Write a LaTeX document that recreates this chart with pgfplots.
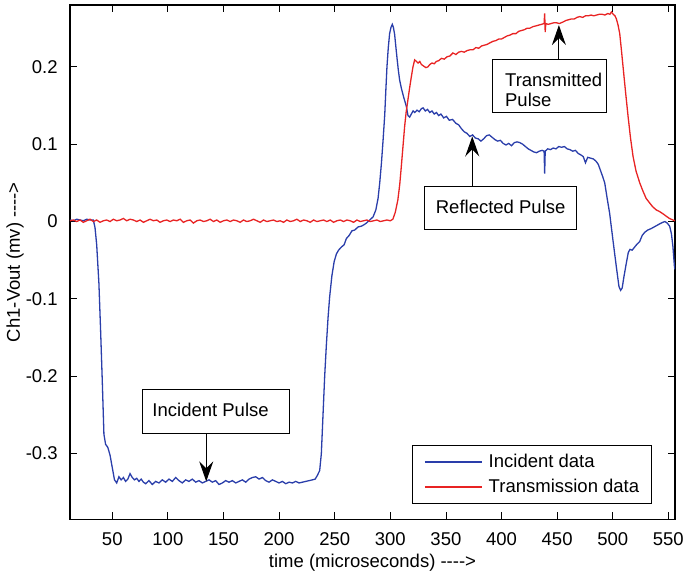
\documentclass[border=0pt]{standalone}
\usepackage{fontspec}
\setmainfont{Liberation Sans}
\usepackage{pgfplots}
\pgfplotsset{compat=1.18}
\usetikzlibrary{arrows.meta}

\definecolor{incblue}{RGB}{42,62,170}
\definecolor{trnred}{RGB}{232,35,35}
\newcommand{\arr}{-\kern0pt-\kern0pt-\kern0pt-\kern0pt>}

\begin{document}
\fontsize{18.5bp}{22bp}\selectfont
\begin{tikzpicture}
  \begin{axis}[
      name=ax,
      scale only axis,
      width=605bp, height=514.3bp,
      xmin=12, xmax=556,
      ymin=-0.385, ymax=0.28,
      xtick={50,100,...,550},
      ytick={-0.3,-0.2,-0.1,0,0.1,0.2},
      yticklabels={-0.3,-0.2,-0.1,0,0.1,0.2},
      tick align=inside,
      major tick length=7bp,
      tick style={black, line width=0.8bp},
      axis line style={line width=1.2bp},
      /pgf/number format/assume math mode=true,
      tick label style={font=\fontsize{18.5bp}{22bp}\selectfont},
      yticklabel style={xshift=-6bp},
      xticklabel style={yshift=-7bp},
      label style={font=\fontsize{18.5bp}{22bp}\selectfont},
      xlabel={time (microseconds) \arr},
      ylabel={Ch1-Vout (mv) \arr},
      xlabel style={at={(axis description cs:0.5,-0.0835)}, anchor=center},
      ylabel style={at={(axis description cs:-0.0909,0.5)}, anchor=center, rotate=0},
      legend style={at={(axis description cs:1,0)}, anchor=south east,
        xshift=-23.3bp, yshift=15.3bp, draw=black, line width=1bp, fill=white,
        inner xsep=12bp, inner ysep=7.3bp, row sep=7bp,
        nodes={inner sep=0pt, text height=14bp, text depth=4bp,
          font=\fontsize{18.5bp}{22bp}\selectfont},
        column sep=6bp},
      legend cell align=left,
    ]
    \addplot[incblue, line width=1.3bp,
      legend image code/.code={\draw[incblue, line width=1.5bp] (0bp,0bp) -- (57bp,0bp);}]
      coordinates {
      (12,0.002)(15,0.001)(18,0.003)(21,0.002)(24,0.001)(27,0.003)(30,0.002)(33,0.002)
      (34.5,-0.008)(36,-0.030)(38,-0.080)(39.5,-0.14)(41,-0.205)(42.5,-0.275)(44,-0.288)
      (46,-0.292)(48,-0.302)(50,-0.318)(52,-0.334)(54,-0.338)(56,-0.330)(58,-0.334)
      (60,-0.331)(62,-0.336)(64,-0.333)(66,-0.326)(68,-0.331)(70,-0.334)(72,-0.332)
      (74,-0.336)(76,-0.333)(78,-0.337)(80,-0.339)(83,-0.335)(86,-0.340)(89,-0.336)
      (92,-0.338)(95,-0.334)(98,-0.337)(101,-0.333)(104,-0.336)(107,-0.331)(110,-0.335)
      (113,-0.338)(116,-0.334)(119,-0.336)(122,-0.333)(125,-0.337)(128,-0.335)(131,-0.338)
      (134,-0.336)(137,-0.334)(140,-0.337)(143,-0.335)(146,-0.340)(149,-0.338)(152,-0.335)
      (155,-0.337)(158,-0.335)(161,-0.338)(164,-0.336)(167,-0.334)(170,-0.337)(173,-0.333)
      (176,-0.331)(179,-0.330)(182,-0.333)(185,-0.331)(188,-0.335)(191,-0.337)(194,-0.334)
      (197,-0.336)(200,-0.338)(203,-0.336)(206,-0.339)(209,-0.337)(212,-0.338)(215,-0.336)
      (218,-0.338)(221,-0.337)(224,-0.336)(227,-0.335)(230,-0.334)(232.5,-0.333)
      (234.5,-0.328)(236.5,-0.322)(238,-0.300)(239.5,-0.250)(241,-0.200)(242.5,-0.160)
      (244,-0.125)(245.5,-0.097)(247.5,-0.070)(249.5,-0.052)(251.5,-0.042)(253.5,-0.037)
      (256,-0.033)(258.5,-0.030)(260.5,-0.022)(263,-0.018)(265.5,-0.012)(268,-0.011)
      (271,-0.007)(274,-0.006)(276.5,-0.004)(278.5,-0.002)(281.5,0.002)(284.5,0.006)
      (287,0.015)(289,0.030)(290.5,0.050)(292,0.075)(293.5,0.105)(295,0.138)(296,0.170)
      (297,0.200)(298.2,0.225)(299.4,0.243)(300.6,0.251)(301.8,0.255)(302.8,0.251)
      (303.9,0.242)(305,0.226)(306,0.212)(307.2,0.196)(308.4,0.183)(310,0.172)(312,0.161)
      (314.4,0.149)(315.9,0.137)(317.4,0.135)(318.9,0.139)(320.5,0.143)(322,0.141)
      (324,0.144)(326,0.142)(328,0.146)(329.5,0.147)(331.5,0.143)(333.5,0.145)(335.5,0.141)
      (337.5,0.143)(339.5,0.139)(341.5,0.141)(343.5,0.137)(345.5,0.139)(348,0.134)
      (350.5,0.136)(353,0.131)(356,0.132)(359,0.127)(361.5,0.125)(364,0.120)(366.5,0.116)
      (369,0.114)(371.5,0.110)(374,0.112)(376.5,0.108)(379,0.107)(381.5,0.104)(384,0.107)
      (386.5,0.111)(389,0.112)(391.5,0.109)(394,0.106)(396.5,0.104)(399,0.105)(401.5,0.101)
      (404,0.099)(406.5,0.101)(409,0.098)(411.5,0.102)(414,0.103)(416.5,0.102)(419,0.100)
      (421.5,0.097)(424,0.094)(426.5,0.092)(429,0.090)(431.5,0.089)(434,0.091)(436.5,0.092)
      (438.3,0.091)(438.8,0.062)(439.3,0.091)(441.5,0.094)(444,0.093)(446.5,0.095)
      (449,0.094)(451.5,0.097)(454,0.096)(456.5,0.097)(459,0.094)(461.5,0.093)(464,0.091)
      (466.5,0.092)(469,0.088)(471.5,0.086)(473.5,0.084)(475.5,0.076)(477.5,0.083)
      (480,0.082)(482.5,0.081)(485,0.078)(487,0.074)(489,0.066)(491,0.058)(492.8,0.050)
      (495,0.030)(497.2,0.011)(500.2,-0.024)(503.2,-0.058)(505.6,-0.084)(507.1,-0.089)
      (508.5,-0.086)(510,-0.072)(512.2,-0.054)(514,-0.040)(515.5,-0.036)(517.5,-0.037)
      (519.7,-0.033)(522,-0.029)(524.2,-0.026)(526.5,-0.018)(528.7,-0.014)(531.5,-0.011)
      (534.7,-0.009)(538.5,-0.006)(542.2,-0.003)(545,-0.001)(547,0.000)(549,-0.002)
      (551.2,-0.006)(552.8,-0.016)(554.1,-0.032)(555.5,-0.058)(556,-0.062)
    };
    \addlegendentry{Incident data}
    \addplot[trnred, line width=1.3bp,
      legend image code/.code={\draw[trnred, line width=1.5bp] (0bp,0bp) -- (57bp,0bp);}]
      coordinates {
      (12,0.001)(15,0.002)(18,0.000)(21,0.002)(24,-0.001)(27,0.001)(30,0.003)(33,0.000)
      (36,0.002)(39,-0.001)(42,0.001)(45,0.002)(48,0.000)(51,0.003)(54,0.001)(57,0.002)
      (60,0.004)(63,0.001)(66,0.003)(69,0.002)(72,0.000)(75,0.002)(78,-0.001)(81,0.001)
      (84,0.003)(87,0.001)(90,0.002)(93,-0.001)(96,0.001)(99,0.002)(102,0.000)(105,0.002)
      (108,0.001)(111,0.003)(114,-0.001)(117,0.001)(120,0.002)(123,-0.002)(126,0.001)
      (129,0.002)(132,0.000)(135,0.001)(138,0.003)(141,0.000)(144,0.002)(147,-0.001)
      (150,0.001)(153,0.002)(156,0.000)(159,0.002)(162,0.001)(165,-0.001)(168,0.002)
      (171,0.000)(174,0.001)(177,0.003)(180,0.001)(183,-0.001)(186,0.002)(189,0.000)
      (192,0.001)(195,0.002)(198,0.000)(201,0.001)(204,-0.001)(207,0.002)(210,0.000)
      (213,0.001)(216,0.003)(219,0.000)(222,0.002)(225,0.001)(228,-0.001)(231,0.002)
      (234,0.000)(237,0.001)(240,0.002)(243,0.000)(246,0.002)(249,-0.001)(252,0.001)
      (255,0.002)(258,0.000)(261,0.002)(264,0.001)(267,-0.001)(270,0.002)(273,0.000)
      (276,0.001)(279,0.002)(282,0.000)(285,0.001)(288,0.002)(291,0.000)(294,0.001)
      (297,0.002)(300,0.001)(302.3,0.003)(304.5,0.012)(306.8,0.028)(308.5,0.048)
      (309.9,0.071)(311.4,0.097)(312.9,0.123)(314.3,0.142)(315.8,0.157)(317.3,0.172)
      (318.9,0.187)(320.4,0.200)(321.9,0.209)(323.5,0.207)(325,0.205)(326.5,0.207)
      (328,0.203)(330,0.201)(332,0.199)(333.8,0.200)(335.5,0.203)(337.5,0.205)(339.5,0.204)
      (341.4,0.207)(343.5,0.208)(346,0.211)(348.5,0.210)(351,0.213)(353.5,0.214)
      (356.3,0.218)(359,0.216)(361.5,0.219)(364,0.220)(366.5,0.219)(369,0.221)(371.5,0.222)
      (374.3,0.222)(377,0.225)(379.5,0.224)(382,0.227)(384.5,0.228)(387,0.229)(389.5,0.231)
      (392.3,0.233)(395,0.234)(397.5,0.236)(400,0.236)(402.5,0.238)(405,0.240)(407.5,0.241)
      (410.3,0.243)(413,0.243)(415.5,0.246)(418,0.247)(420.5,0.248)(423,0.250)(425.5,0.250)
      (428.3,0.252)(431,0.253)(433.5,0.254)(436,0.255)(438.3,0.256)(438.8,0.269)
      (439.3,0.245)(439.8,0.256)(442,0.255)(444.5,0.256)(447,0.257)(449.5,0.257)(452,0.256)
      (455.3,0.258)(458,0.260)(460.5,0.261)(463,0.262)(465.5,0.262)(468,0.264)(470.3,0.265)
      (473,0.264)(475.5,0.266)(478,0.266)(480.5,0.267)(483,0.266)(485.5,0.267)(488,0.268)
      (490.5,0.268)(493,0.267)(495.5,0.269)(497.5,0.268)(498.8,0.271)(500.5,0.268)
      (502,0.266)(503.3,0.262)(504.8,0.254)(506.3,0.243)(507.8,0.222)(509.3,0.200)
      (511.5,0.168)(513.8,0.136)(516,0.108)(518.3,0.084)(521,0.065)(524.3,0.050)(527,0.040)
      (530,0.030)(533.2,0.024)(536,0.019)(539.2,0.015)(542,0.013)(545.2,0.010)(548,0.007)
      (551,0.004)(554.1,0.002)(556,0.001)
    };
    \addlegendentry{Transmission data}

    % annotation boxes and arrows
    \draw[line width=1bp, fill=white] (axis cs:77,-0.2175) rectangle (axis cs:209.4,-0.274);
    \node[anchor=west, inner sep=0pt, xshift=10bp] at (axis cs:77,-0.2435) {Incident Pulse};
    \draw[line width=1bp, -{Stealth[length=20bp,width=14bp,inset=7bp]}]
      (axis cs:134.5,-0.274) -- (axis cs:134.5,-0.336);

    \draw[line width=1bp, fill=white] (axis cs:330.9,0.0452) rectangle (axis cs:467.3,-0.0107);
    \node[anchor=west, inner sep=0pt, xshift=11bp] at (axis cs:330.9,0.0194) {Reflected Pulse};
    \draw[line width=1bp, -{Stealth[length=20bp,width=14bp,inset=7bp]}]
      (axis cs:373.7,0.0452) -- (axis cs:373.7,0.11);

    \draw[line width=1bp, fill=white] (axis cs:392.3,0.209) rectangle (axis cs:494.3,0.141);
    \node[anchor=west, inner sep=0pt, xshift=12bp] at (axis cs:392.3,0.183) {Transmitted};
    \node[anchor=west, inner sep=0pt, xshift=12bp] at (axis cs:392.3,0.157) {Pulse};
    \draw[line width=1bp, -{Stealth[length=20bp,width=14bp,inset=7bp]}]
      (axis cs:451.6,0.209) -- (axis cs:451.6,0.254);
  \end{axis}
  \pgfresetboundingbox
  \path ([shift={(-70bp,-53.7bp)}]ax.south west) rectangle ([shift={(9bp,5bp)}]ax.north east);
\end{tikzpicture}
\end{document}
